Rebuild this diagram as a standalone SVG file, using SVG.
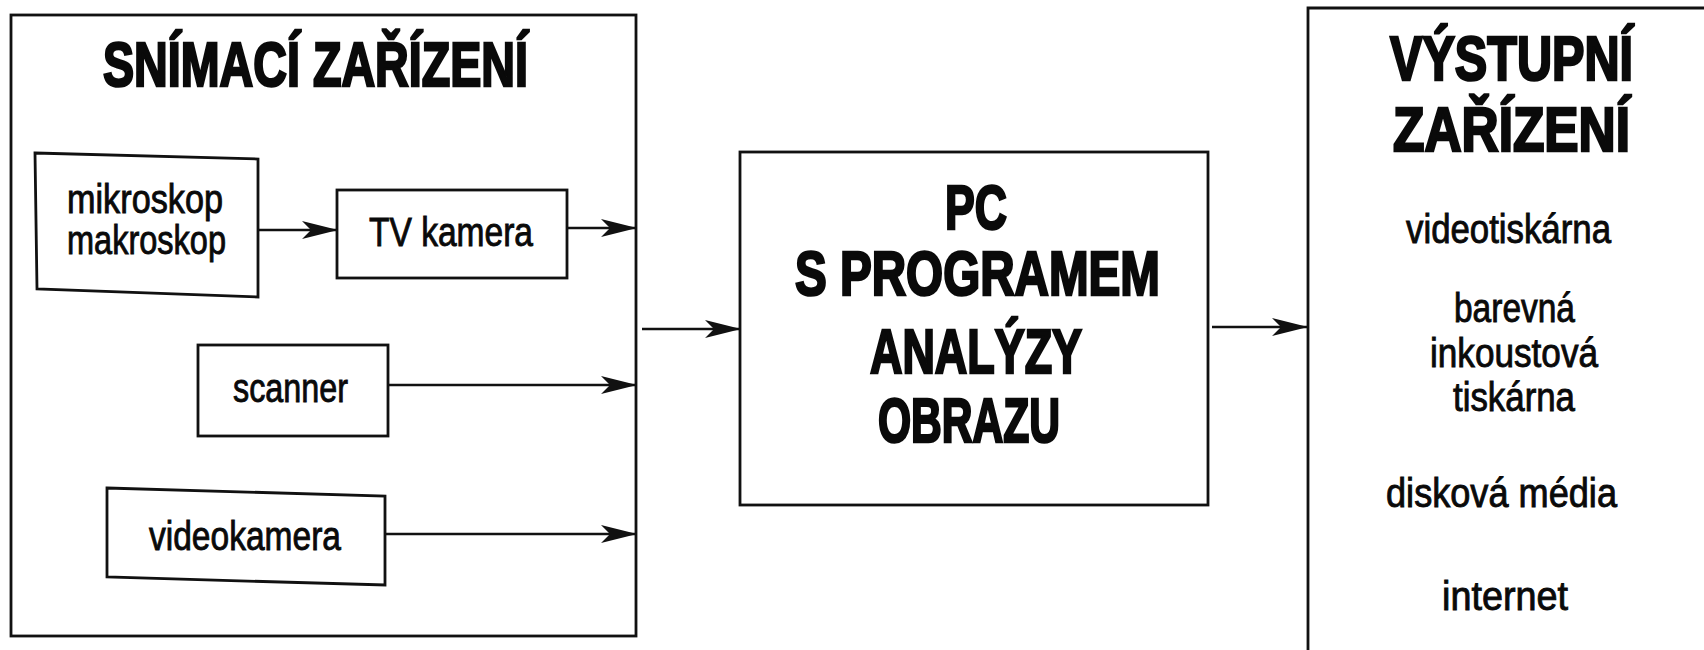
<svg xmlns="http://www.w3.org/2000/svg" width="1704" height="650" viewBox="0 0 1704 650">
<style>
.box{fill:none;stroke:#111;stroke-width:2.8}
.con{fill:none;stroke:#111;stroke-width:2.6}
.h{font-family:"Liberation Sans",Arial,sans-serif;font-weight:bold;font-size:63px;fill:#0a0a0a;stroke:#0a0a0a;stroke-width:2.6;stroke-linejoin:miter}
.t{font-family:"Liberation Sans",Arial,sans-serif;font-size:40px;fill:#0a0a0a;stroke:#0a0a0a;stroke-width:0.9}
</style>
<defs>
<marker id="ah" viewBox="0 0 36 20" refX="35" refY="10" markerWidth="36" markerHeight="20" orient="auto" markerUnits="userSpaceOnUse">
<path d="M0,1 L36,10 L0,19 L9,10 Z" fill="#111"/>
</marker>
</defs>
<rect width="1704" height="650" fill="#fff"/>
<g id="snimaci-zarizeni">
<rect class="box" x="11" y="15" width="625" height="621"/>
<text class="h" x="103" y="86" textLength="425" lengthAdjust="spacingAndGlyphs">SNÍMACÍ ZAŘÍZENÍ</text>
</g>
<g id="mikroskop">
<polygon class="box" points="35,153 258,159 258,297 37,289"/>
<text class="t" x="67" y="213" textLength="156" lengthAdjust="spacingAndGlyphs">mikroskop</text>
<text class="t" x="67" y="254" textLength="159" lengthAdjust="spacingAndGlyphs">makroskop</text>
</g>
<g id="tv-kamera">
<rect class="box" x="337" y="190" width="230" height="88"/>
<text class="t" x="369" y="246" textLength="164" lengthAdjust="spacingAndGlyphs">TV kamera</text>
</g>
<g id="scanner">
<rect class="box" x="198" y="345" width="190" height="91"/>
<text class="t" x="233" y="402" textLength="115" lengthAdjust="spacingAndGlyphs">scanner</text>
</g>
<g id="videokamera">
<polygon class="box" points="107,488 385,496 385,585 107,577"/>
<text class="t" x="149" y="550" textLength="192" lengthAdjust="spacingAndGlyphs">videokamera</text>
</g>
<g id="pc">
<rect class="box" x="740" y="152" width="468" height="353"/>
<text class="h" x="945" y="229" textLength="62" lengthAdjust="spacingAndGlyphs">PC</text>
<text class="h" x="795" y="295" textLength="365" lengthAdjust="spacingAndGlyphs">S PROGRAMEM</text>
<text class="h" x="870" y="373" textLength="212" lengthAdjust="spacingAndGlyphs">ANALÝZY</text>
<text class="h" x="878" y="442" textLength="182" lengthAdjust="spacingAndGlyphs">OBRAZU</text>
</g>
<g id="vystupni-zarizeni">
<path class="box" d="M1308,652 V8 H1706"/>
<text class="h" x="1390" y="80" textLength="243" lengthAdjust="spacingAndGlyphs">VÝSTUPNÍ</text>
<text class="h" x="1393" y="151" textLength="237" lengthAdjust="spacingAndGlyphs">ZAŘÍZENÍ</text>
<text class="t" x="1406" y="243" textLength="205" lengthAdjust="spacingAndGlyphs">videotiskárna</text>
<text class="t" x="1454" y="322" textLength="121" lengthAdjust="spacingAndGlyphs">barevná</text>
<text class="t" x="1430" y="367" textLength="168" lengthAdjust="spacingAndGlyphs">inkoustová</text>
<text class="t" x="1453" y="411" textLength="122" lengthAdjust="spacingAndGlyphs">tiskárna</text>
<text class="t" x="1386" y="507" textLength="231" lengthAdjust="spacingAndGlyphs">disková média</text>
<text class="t" x="1442" y="610" textLength="126" lengthAdjust="spacingAndGlyphs">internet</text>
</g>
<g id="connectors">
<line class="con" x1="258" y1="230" x2="337" y2="230" marker-end="url(#ah)"/>
<line class="con" x1="567" y1="228" x2="636" y2="228" marker-end="url(#ah)"/>
<line class="con" x1="388" y1="385" x2="636" y2="385" marker-end="url(#ah)"/>
<line class="con" x1="385" y1="534" x2="636" y2="534" marker-end="url(#ah)"/>
<line class="con" x1="642" y1="329" x2="740" y2="329" marker-end="url(#ah)"/>
<line class="con" x1="1212" y1="327" x2="1307" y2="327" marker-end="url(#ah)"/>
</g>
</svg>
